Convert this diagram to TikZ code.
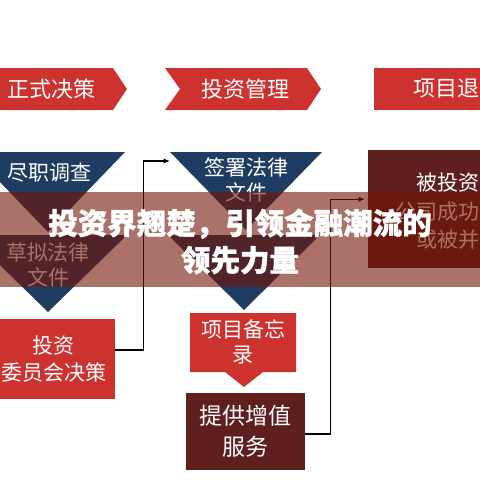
\documentclass[tikz,border=0pt]{standalone}
\usepackage{fontspec}
\newfontfamily\cjk{Noto Sans CJK SC}[BoldFeatures={FakeBold=1.2}]
\usetikzlibrary{arrows.meta}
\definecolor{redA}{RGB}{206,50,46}
\definecolor{navy}{RGB}{31,61,99}
\definecolor{maroon}{RGB}{96,31,31}
\definecolor{veil}{RGB}{115,20,5}

\begin{document}
\begin{tikzpicture}[x=1pt,y=-1pt,
  lbl/.style={text=white,align=center,inner sep=0pt,font=\cjk\fontsize{21}{25}\selectfont},
  box/.style={fill=redA,inner sep=0pt,text=white,align=center,font=\cjk\fontsize{21}{27}\selectfont},
  edge/.style={-{Latex[length=2.2mm,width=1.8mm]},line width=1.4pt},
  headline/.style={text=white,align=center,inner sep=0pt,font=\cjk\bfseries\fontsize{29.5}{37}\selectfont}
]
\useasboundingbox (0,0) rectangle (480,480);
\clip (0,0) rectangle (480,480);

% stage banners
\fill[redA] (-5,68) -- (113,68) -- (127,89) -- (113,110) -- (-5,110) -- cycle;
\node[lbl,font=\cjk\fontsize{22}{26}\selectfont] (s1) at (52,89) {正式决策};
\fill[redA] (165,68) -- (307,68) -- (321,89) -- (307,110) -- (165,110) -- (180,89) -- cycle;
\node[lbl,font=\cjk\fontsize{22}{26}\selectfont] (s2) at (245,89) {投资管理};
\fill[redA] (374,68) rectangle (485,110);
\node[lbl,font=\cjk\fontsize{22}{26}\selectfont,anchor=west] (s3) at (413,89) {项目退};

% left column
\fill[navy] (-29,152) -- (125,152) -- (48,232) -- cycle;
\node[lbl] (dd) at (50,173) {尽职调查};
\fill[navy] (-31,235) -- (127,235) -- (48,312) -- cycle;
\node[lbl] (draft) at (48,265) {草拟法律\\文件};
\node[box,minimum width=122pt,minimum height=80pt] (vote) at (54,359) {投资\\委员会决策};

% middle column
\fill[navy] (170,152) -- (322,152) -- (246,230) -- cycle;
\node[lbl] (sign) at (246,180) {签署法律\\文件};
\fill[navy] (168,235) -- (320,235) -- (244,310) -- cycle;
\fill[redA] (190,313) -- (296,313) -- (296,372) -- (263,372) -- (244,387) -- (225,372) -- (190,372) -- cycle;
\node[lbl] (memo) at (243,342) {项目备忘\\录};
\node[box,fill=maroon,minimum width=119pt,minimum height=77pt,font=\cjk\fontsize{23}{31}\selectfont] (serve) at (245.5,431.5) {提供增值\\服务};

% right column
\node[box,fill=maroon,minimum width=117pt,minimum height=118pt,anchor=north west] (exit) at (368,150) {};
\node[lbl,align=right,anchor=east,font=\cjk\fontsize{21}{28.5}\selectfont] (exittxt) at (480,211.5) {被投资\\公司成功\\或被并};

% connectors
\coordinate (a1) at (170,161);
\draw[edge] ([yshift=9pt]vote.east) -- ++(28,0) |- (a1);
\draw[edge,shorten >=3pt] ([yshift=-2.5pt]serve.east) -- ++(25,0) |- ([yshift=10pt]exit.west);

% title band
\fill[veil,opacity=0.6] (0,192) rectangle (480,287);
\node[headline] (title) at (240,241.5) {投资界翘楚，引领金融潮流的\\领先力量};
\end{tikzpicture}
\end{document}
